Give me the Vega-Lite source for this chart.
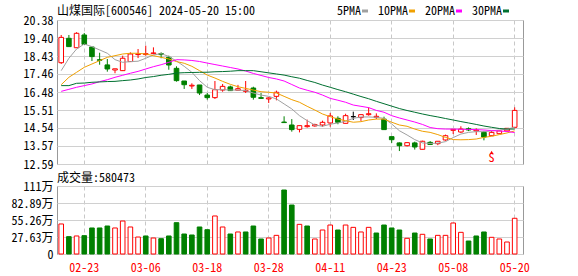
{
  "$schema": "https://vega.github.io/schema/vega-lite/v6.json",
  "background": "white",
  "padding": {"left": 10, "top": 4, "right": 5, "bottom": 2},
  "config": {
    "font": "Noto Sans Mono CJK SC, Noto Sans CJK SC, Liberation Mono, sans-serif",
    "view": {"stroke": "#999999", "strokeWidth": 1},
    "axis": {"ticks": false, "domain": false, "labelFontSize": 12, "labelColor": "#000000", "labelFlush": false, "labelOverlap": false, "labelBound": false, "title": null, "gridColor": "#d0d0d0", "gridWidth": 1},
    "title": {"fontSize": 12, "fontWeight": "normal", "color": "#000000", "anchor": "start", "frame": "group"}
  },
  "datasets": {
    "kl": [
      {"d":"02-20","o":18.07,"h":19.57,"l":18.00,"c":19.44,"k":"up","v":488000,"vk":"up","5PMA":17.64,"10PMA":16.88,"20PMA":16.52,"30PMA":16.83},
      {"d":"02-21","o":19.39,"h":19.57,"l":18.92,"c":18.94,"k":"down","v":282000,"vk":"down","5PMA":18.31,"10PMA":17.28,"20PMA":16.63,"30PMA":16.83},
      {"d":"02-22","o":18.88,"h":19.72,"l":18.88,"c":19.66,"k":"up","v":293000,"vk":"up","5PMA":18.81,"10PMA":17.55,"20PMA":16.74,"30PMA":16.955},
      {"d":"02-23","o":19.57,"h":19.68,"l":19.06,"c":19.06,"k":"down","v":298000,"vk":"down","5PMA":19.08,"10PMA":17.82,"20PMA":16.83,"30PMA":16.97},
      {"d":"02-26","o":18.92,"h":18.92,"l":18.16,"c":18.40,"k":"down","v":423000,"vk":"down","5PMA":18.94,"10PMA":18.00,"20PMA":16.92,"30PMA":17.01},
      {"d":"02-27","o":18.23,"h":18.61,"l":17.96,"c":18.20,"k":"down","v":423000,"vk":"down","5PMA":18.76,"10PMA":18.18,"20PMA":17.045,"30PMA":17.03},
      {"d":"02-28","o":17.95,"h":18.27,"l":17.585,"c":17.73,"k":"down","v":455000,"vk":"down","5PMA":18.58,"10PMA":18.36,"20PMA":17.15,"30PMA":17.05},
      {"d":"02-29","o":17.675,"h":17.74,"l":17.50,"c":17.74,"k":"up","v":423000,"vk":"up","5PMA":18.235,"10PMA":18.45,"20PMA":17.28,"30PMA":17.06},
      {"d":"03-01","o":17.64,"h":18.45,"l":17.62,"c":18.31,"k":"up","v":536000,"vk":"up","5PMA":18.09,"10PMA":18.54,"20PMA":17.39,"30PMA":17.10},
      {"d":"03-04","o":18.13,"h":18.63,"l":18.13,"c":18.54,"k":"up","v":439000,"vk":"up","5PMA":18.13,"10PMA":18.58,"20PMA":17.50,"30PMA":17.135},
      {"d":"03-05","o":18.51,"h":18.81,"l":18.32,"c":18.54,"k":"up","v":276000,"vk":"up","5PMA":18.15,"10PMA":18.58,"20PMA":17.60,"30PMA":17.19},
      {"d":"03-06","o":18.51,"h":18.99,"l":18.45,"c":18.56,"k":"up","v":293000,"vk":"down","5PMA":18.31,"10PMA":18.54,"20PMA":17.73,"30PMA":17.27},
      {"d":"03-07","o":18.56,"h":18.90,"l":18.53,"c":18.60,"k":"up","v":260000,"vk":"up","5PMA":18.49,"10PMA":18.45,"20PMA":17.855,"30PMA":17.32},
      {"d":"03-08","o":18.56,"h":18.63,"l":18.31,"c":18.51,"k":"down","v":249000,"vk":"down","5PMA":18.56,"10PMA":18.36,"20PMA":17.96,"30PMA":17.39},
      {"d":"03-11","o":18.36,"h":18.45,"l":17.69,"c":17.945,"k":"down","v":293000,"vk":"down","5PMA":18.41,"10PMA":18.27,"20PMA":18.09,"30PMA":17.44},
      {"d":"03-12","o":17.765,"h":17.875,"l":17.045,"c":17.10,"k":"down","v":509000,"vk":"down","5PMA":18.16,"10PMA":18.13,"20PMA":18.235,"30PMA":17.51},
      {"d":"03-13","o":17.08,"h":17.08,"l":16.65,"c":16.88,"k":"down","v":325000,"vk":"down","5PMA":17.875,"10PMA":18.04,"20PMA":18.22,"30PMA":17.53},
      {"d":"03-14","o":16.81,"h":16.955,"l":16.65,"c":16.85,"k":"up","v":309000,"vk":"down","5PMA":17.55,"10PMA":17.875,"20PMA":18.19,"30PMA":17.54},
      {"d":"03-15","o":16.865,"h":16.865,"l":16.32,"c":16.43,"k":"down","v":439000,"vk":"down","5PMA":17.10,"10PMA":17.64,"20PMA":18.135,"30PMA":17.55},
      {"d":"03-18","o":16.32,"h":16.43,"l":16.07,"c":16.18,"k":"down","v":395000,"vk":"down","5PMA":16.74,"10PMA":17.40,"20PMA":18.05,"30PMA":17.555},
      {"d":"03-19","o":16.18,"h":17.08,"l":16.11,"c":16.61,"k":"up","v":618000,"vk":"up","5PMA":16.61,"10PMA":17.24,"20PMA":17.97,"30PMA":17.58},
      {"d":"03-20","o":16.59,"h":16.92,"l":16.50,"c":16.79,"k":"up","v":439000,"vk":"up","5PMA":16.61,"10PMA":17.06,"20PMA":17.89,"30PMA":17.59},
      {"d":"03-21","o":16.76,"h":16.83,"l":16.56,"c":16.56,"k":"down","v":325000,"vk":"down","5PMA":16.59,"10PMA":16.90,"20PMA":17.81,"30PMA":17.61},
      {"d":"03-22","o":16.58,"h":16.87,"l":16.58,"c":16.665,"k":"up","v":358000,"vk":"up","5PMA":16.59,"10PMA":16.77,"20PMA":17.73,"30PMA":17.64},
      {"d":"03-25","o":16.52,"h":17.08,"l":16.43,"c":16.58,"k":"up","v":358000,"vk":"down","5PMA":16.56,"10PMA":16.68,"20PMA":17.62,"30PMA":17.64},
      {"d":"03-26","o":16.70,"h":16.77,"l":16.07,"c":16.20,"k":"down","v":455000,"vk":"down","5PMA":16.43,"10PMA":16.59,"20PMA":17.49,"30PMA":17.64},
      {"d":"03-27","o":16.18,"h":16.43,"l":16.11,"c":16.14,"k":"down","v":244000,"vk":"down","5PMA":16.32,"10PMA":16.50,"20PMA":17.38,"30PMA":17.58},
      {"d":"03-28","o":16.11,"h":16.20,"l":15.89,"c":16.165,"k":"up","v":260000,"vk":"up","5PMA":16.25,"10PMA":16.47,"20PMA":17.27,"30PMA":17.52},
      {"d":"03-29","o":16.25,"h":16.56,"l":16.035,"c":16.47,"k":"up","v":303000,"vk":"up","5PMA":16.11,"10PMA":16.43,"20PMA":17.19,"30PMA":17.46},
      {"d":"04-01","o":14.86,"h":15.17,"l":14.83,"c":14.83,"k":"down","v":1040000,"vk":"down","5PMA":15.84,"10PMA":16.25,"20PMA":17.08,"30PMA":17.40},
      {"d":"04-02","o":14.70,"h":15.02,"l":14.34,"c":14.45,"k":"down","v":796000,"vk":"down","5PMA":15.57,"10PMA":16.07,"20PMA":16.89,"30PMA":17.31},
      {"d":"04-03","o":14.465,"h":14.665,"l":14.30,"c":14.665,"k":"up","v":482000,"vk":"up","5PMA":15.205,"10PMA":15.93,"20PMA":16.70,"30PMA":17.23},
      {"d":"04-08","o":14.61,"h":14.99,"l":14.555,"c":14.665,"k":"up","v":455000,"vk":"down","5PMA":14.935,"10PMA":15.71,"20PMA":16.58,"30PMA":17.11},
      {"d":"04-09","o":14.65,"h":14.77,"l":14.61,"c":14.72,"k":"up","v":244000,"vk":"up","5PMA":14.70,"10PMA":15.51,"20PMA":16.47,"30PMA":17.00},
      {"d":"04-10","o":14.70,"h":14.935,"l":14.61,"c":14.845,"k":"up","v":390000,"vk":"up","5PMA":14.63,"10PMA":15.295,"20PMA":16.32,"30PMA":16.86},
      {"d":"04-11","o":14.81,"h":15.35,"l":14.61,"c":15.19,"k":"up","v":471000,"vk":"up","5PMA":14.74,"10PMA":15.15,"20PMA":16.14,"30PMA":16.74},
      {"d":"04-12","o":15.06,"h":15.17,"l":14.74,"c":14.845,"k":"down","v":390000,"vk":"down","5PMA":14.81,"10PMA":15.02,"20PMA":16.04,"30PMA":16.615},
      {"d":"04-15","o":14.79,"h":15.31,"l":14.79,"c":15.205,"k":"up","v":471000,"vk":"up","5PMA":14.90,"10PMA":14.935,"20PMA":15.93,"30PMA":16.50},
      {"d":"04-16","o":15.15,"h":15.42,"l":14.97,"c":15.15,"k":"flat","v":433000,"vk":"up","5PMA":15.06,"10PMA":14.85,"20PMA":15.78,"30PMA":16.37},
      {"d":"04-17","o":15.10,"h":15.26,"l":14.92,"c":15.26,"k":"up","v":358000,"vk":"up","5PMA":15.135,"10PMA":14.88,"20PMA":15.71,"30PMA":16.24},
      {"d":"04-18","o":15.26,"h":15.655,"l":15.205,"c":15.31,"k":"up","v":433000,"vk":"up","5PMA":15.135,"10PMA":14.97,"20PMA":15.64,"30PMA":16.12},
      {"d":"04-19","o":15.115,"h":15.33,"l":15.02,"c":15.17,"k":"up","v":341000,"vk":"down","5PMA":15.115,"10PMA":15.02,"20PMA":15.49,"30PMA":15.98},
      {"d":"04-22","o":15.02,"h":15.15,"l":14.45,"c":14.45,"k":"down","v":471000,"vk":"down","5PMA":15.06,"10PMA":15.02,"20PMA":15.39,"30PMA":15.85},
      {"d":"04-23","o":14.07,"h":14.07,"l":13.73,"c":13.905,"k":"down","v":423000,"vk":"down","5PMA":14.755,"10PMA":14.85,"20PMA":15.205,"30PMA":15.72},
      {"d":"04-24","o":13.73,"h":13.76,"l":13.29,"c":13.58,"k":"down","v":390000,"vk":"down","5PMA":14.39,"10PMA":14.70,"20PMA":15.08,"30PMA":15.59},
      {"d":"04-25","o":13.58,"h":13.78,"l":13.54,"c":13.745,"k":"up","v":255000,"vk":"up","5PMA":14.16,"10PMA":14.63,"20PMA":14.97,"30PMA":15.485},
      {"d":"04-26","o":13.73,"h":13.80,"l":13.37,"c":13.51,"k":"down","v":341000,"vk":"down","5PMA":13.91,"10PMA":14.48,"20PMA":14.86,"30PMA":15.39},
      {"d":"04-29","o":13.385,"h":13.85,"l":13.385,"c":13.82,"k":"up","v":320000,"vk":"up","5PMA":13.73,"10PMA":14.36,"20PMA":14.73,"30PMA":15.295},
      {"d":"04-30","o":13.76,"h":13.83,"l":13.65,"c":13.65,"k":"down","v":244000,"vk":"down","5PMA":13.70,"10PMA":14.30,"20PMA":14.565,"30PMA":15.21},
      {"d":"05-06","o":13.69,"h":13.83,"l":13.61,"c":13.82,"k":"up","v":303000,"vk":"up","5PMA":13.72,"10PMA":14.18,"20PMA":14.50,"30PMA":15.135},
      {"d":"05-07","o":13.89,"h":14.18,"l":13.85,"c":14.12,"k":"up","v":303000,"vk":"up","5PMA":13.80,"10PMA":14.03,"20PMA":14.48,"30PMA":15.05},
      {"d":"05-08","o":14.41,"h":14.48,"l":14.21,"c":14.465,"k":"up","v":504000,"vk":"up","5PMA":14.02,"10PMA":13.91,"20PMA":14.48,"30PMA":14.97},
      {"d":"05-09","o":14.32,"h":14.63,"l":14.27,"c":14.48,"k":"up","v":352000,"vk":"up","5PMA":14.21,"10PMA":13.90,"20PMA":14.47,"30PMA":14.885},
      {"d":"05-10","o":14.50,"h":14.57,"l":14.37,"c":14.43,"k":"down","v":211000,"vk":"down","5PMA":14.30,"10PMA":13.91,"20PMA":14.46,"30PMA":14.81},
      {"d":"05-13","o":14.38,"h":14.52,"l":14.16,"c":14.43,"k":"up","v":293000,"vk":"down","5PMA":14.34,"10PMA":13.94,"20PMA":14.45,"30PMA":14.73},
      {"d":"05-14","o":14.30,"h":14.38,"l":13.87,"c":14.05,"k":"down","v":358000,"vk":"down","5PMA":14.34,"10PMA":14.03,"20PMA":14.43,"30PMA":14.645},
      {"d":"05-15","o":14.12,"h":14.38,"l":14.12,"c":14.30,"k":"up","v":271000,"vk":"up","5PMA":14.38,"10PMA":14.09,"20PMA":14.40,"30PMA":14.575},
      {"d":"05-16","o":14.23,"h":14.38,"l":14.23,"c":14.38,"k":"up","v":244000,"vk":"up","5PMA":14.43,"10PMA":14.18,"20PMA":14.375,"30PMA":14.51},
      {"d":"05-17","o":14.38,"h":14.52,"l":14.38,"c":14.52,"k":"up","v":195000,"vk":"up","5PMA":14.48,"10PMA":14.27,"20PMA":14.35,"30PMA":14.48},
      {"d":"05-20","o":14.575,"h":15.655,"l":14.52,"c":15.49,"k":"up","v":580473,"vk":"up","5PMA":14.575,"10PMA":14.38,"20PMA":14.29,"30PMA":14.48}
    ],
    "sig": [{"d":"05-15","t":"S","ts":12.9,"ta":13.22}]
  },
  "spacing": 22,
  "bounds": "flush",
  "vconcat": [
    {
      "width": 466,
      "height": 144,
      "title": {"text": "山煤国际[600546] 2024-05-20 15:00", "offset": -4},
      "data": {"name": "kl"},
      "encoding": {
        "x": {"field": "d", "type": "ordinal",
              "scale": {"type": "band", "paddingInner": 0.4, "paddingOuter": 0.515, "align": 0.24},
              "axis": {"values": ["02-23","03-06","03-18","03-28","04-11","04-23","05-08","05-20"], "labels": false, "grid": true, "gridDash": [4,3], "gridColor": "#c8c8c8", "bandPosition": 0.5, "tickCount": 20}}
      },
      "layer": [
        {
          "mark": {"type": "rule", "strokeWidth": 1},
          "encoding": {
            "y": {"field": "l", "type": "quantitative", "scale": {"domain": [12.59, 20.38], "nice": false, "zero": false},
                  "axis": {"values": [12.59,13.57,14.54,15.51,16.48,17.46,18.43,19.40,20.38], "tickCount": 20, "format": ".2f", "grid": true, "labelPadding": 4, "labelOverlap": false}},
            "y2": {"field": "h"},
            "stroke": {"field": "k", "type": "nominal", "scale": {"domain": ["up","down","flat"], "range": ["#ff0000","#008000","#000000"]}, "legend": null}
          }
        },
        {
          "mark": {"type": "bar", "strokeWidth": 1},
          "encoding": {
            "y": {"field": "o", "type": "quantitative"},
            "y2": {"field": "c"},
            "fill": {"field": "k", "type": "nominal", "scale": {"domain": ["up","down","flat"], "range": ["#ffffff","#008000","#000000"]}, "legend": null},
            "stroke": {"field": "k", "type": "nominal", "legend": null}
          }
        },
        {
          "transform": [{"fold": ["5PMA","10PMA","20PMA","30PMA"], "as": ["ma","val"]}],
          "mark": {"type": "line", "strokeWidth": 1},
          "encoding": {
            "y": {"field": "val", "type": "quantitative"},
            "color": {"field": "ma", "type": "nominal",
                      "scale": {"domain": ["5PMA","10PMA","20PMA","30PMA"], "range": ["#a0a0a0","#f0a000","#ff00ff","#007030"]},
                      "legend": {"orient": "none", "legendX": 302, "legendY": -15, "direction": "horizontal", "title": null,
                                 "labelFontSize": 12, "labelColor": "#000000", "symbolType": "stroke", "symbolStrokeWidth": 3, "symbolSize": 36,
                                 "labelAlign": "right", "labelOffset": -10, "columnPadding": 3, "padding": 0}}
          }
        },
        {
          "data": {"name": "sig"},
          "mark": {"type": "text", "color": "#ff0000", "fontSize": 12, "baseline": "middle"},
          "encoding": {"y": {"field": "ts", "type": "quantitative"}, "text": {"field": "t"}}
        },
        {
          "data": {"name": "sig"},
          "mark": {"type": "point", "shape": "triangle-up", "filled": true, "color": "#ff0000", "size": 14, "opacity": 1},
          "encoding": {"y": {"field": "ta", "type": "quantitative"}}
        }
      ]
    },
    {
      "width": 466,
      "height": 68,
      "title": {"text": "成交量:580473", "offset": -5},
      "data": {"name": "kl"},
      "mark": {"type": "bar", "strokeWidth": 1},
      "encoding": {
        "x": {"field": "d", "type": "ordinal",
              "scale": {"type": "band", "paddingInner": 0.4, "paddingOuter": 0.515, "align": 0.24},
              "axis": {"values": ["02-23","03-06","03-18","03-28","04-11","04-23","05-08","05-20"], "tickCount": 20, "grid": true, "gridDash": [4,3], "gridColor": "#c8c8c8", "bandPosition": 0.5, "labelColor": "#ff0000", "labelPadding": 8, "labelAngle": 0}},
        "y": {"field": "v", "type": "quantitative", "scale": {"domain": [0, 1105200], "nice": false},
              "axis": {"values": [0, 276300, 552600, 828900, 1105200], "tickCount": 20, "grid": true, "labelPadding": 4, "labelOverlap": false,
                       "labelExpr": "datum.value == 0 ? '0' : (datum.value >= 1000000 ? format(datum.value / 10000, '.0f') : format(datum.value / 10000, '.2f')) + '万'"}},
        "fill": {"field": "vk", "type": "nominal", "scale": {"domain": ["up","down"], "range": ["#ffffff","#008000"]}, "legend": null},
        "stroke": {"field": "vk", "type": "nominal", "scale": {"domain": ["up","down"], "range": ["#ff0000","#008000"]}, "legend": null}
      }
    }
  ]
}
